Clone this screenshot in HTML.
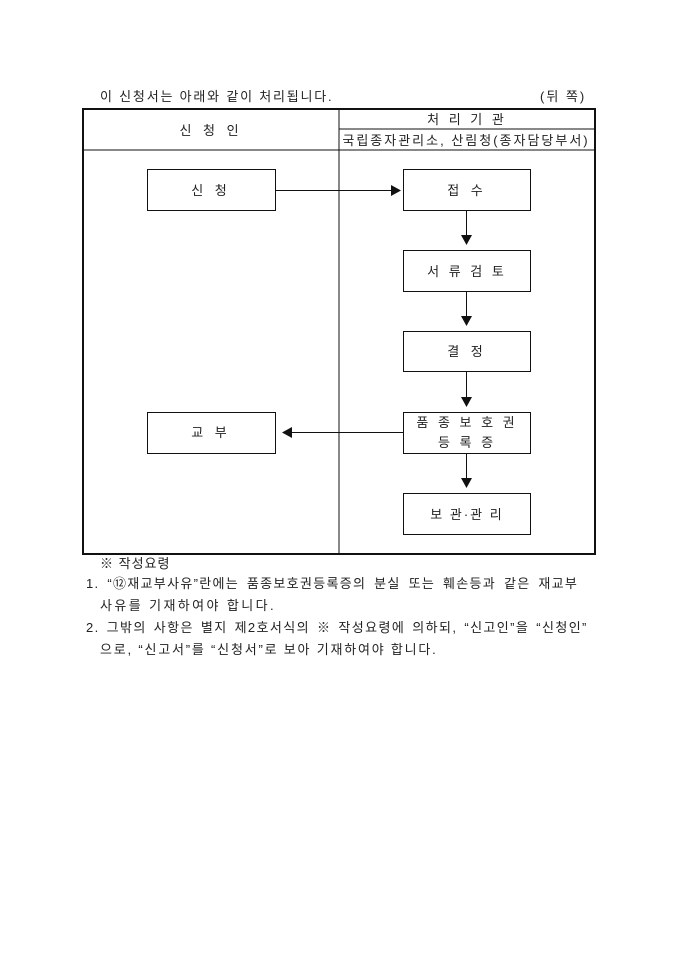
<!DOCTYPE html>
<html><head><meta charset="utf-8"><style>
html,body{margin:0;padding:0;background:#fff;}
body{width:680px;height:962px;position:relative;overflow:hidden;font-family:"Liberation Sans","Noto Sans CJK KR","NanumGothic",sans-serif;color:#222;}
.t{position:absolute;font-size:13px;white-space:nowrap;line-height:1;}
</style></head><body>
<svg width="680" height="962" style="position:absolute;left:0;top:0" xmlns="http://www.w3.org/2000/svg" font-family="Liberation Sans, Noto Sans CJK KR, NanumGothic, sans-serif" font-size="13" fill="#222">
<rect x="83" y="109" width="512" height="445" fill="none" stroke="#111" stroke-width="2"/>
<line x1="339" y1="109" x2="339" y2="554" stroke="#111" stroke-width="1"/>
<line x1="83" y1="150" x2="595" y2="150" stroke="#111" stroke-width="1"/>
<line x1="339" y1="129" x2="595" y2="129" stroke="#111" stroke-width="1"/>
<text x="211" y="135" text-anchor="middle" letter-spacing="4">신 청 인</text>
<text x="467" y="124" text-anchor="middle" letter-spacing="3">처 리 기 관</text>
<text x="466" y="145" text-anchor="middle" letter-spacing="2">국립종자관리소, 산림청(종자담당부서)</text>
<g fill="none" stroke="#111" stroke-width="1">
<rect x="147.5" y="169.5" width="128" height="41"/>
<rect x="403.5" y="169.5" width="127" height="41"/>
<rect x="403.5" y="250.5" width="127" height="41"/>
<rect x="403.5" y="331.5" width="127" height="40"/>
<rect x="403.5" y="412.5" width="127" height="41"/>
<rect x="403.5" y="493.5" width="127" height="41"/>
<rect x="147.5" y="412.5" width="128" height="41"/>
<line x1="275" y1="190.5" x2="392" y2="190.5"/>
<line x1="466.5" y1="210" x2="466.5" y2="236"/>
<line x1="466.5" y1="291" x2="466.5" y2="317"/>
<line x1="466.5" y1="372" x2="466.5" y2="398"/>
<line x1="466.5" y1="453" x2="466.5" y2="479"/>
<line x1="403" y1="432.5" x2="292" y2="432.5"/>
</g>
<g fill="#111">
<polygon points="391,185 401,190.5 391,196"/>
<polygon points="461,235 472,235 466.5,245"/>
<polygon points="461,316 472,316 466.5,326"/>
<polygon points="461,397 472,397 466.5,407"/>
<polygon points="461,478 472,478 466.5,488"/>
<polygon points="292,427 292,438 282,432.5"/>
</g>
<text x="211" y="195" text-anchor="middle" letter-spacing="4">신 청</text>
<text x="467" y="195" text-anchor="middle" letter-spacing="4">접 수</text>
<text x="467" y="276" text-anchor="middle" letter-spacing="3">서 류 검 토</text>
<text x="467" y="356" text-anchor="middle" letter-spacing="4">결 정</text>
<text x="467" y="427" text-anchor="middle" letter-spacing="3">품 종 보 호 권</text>
<text x="467" y="447" text-anchor="middle" letter-spacing="3">등 록 증</text>
<text x="467" y="519" text-anchor="middle" letter-spacing="2">보 관·관 리</text>
<text x="211" y="437" text-anchor="middle" letter-spacing="4">교 부</text>
</svg>
<div class="t" style="left:100px;top:90px;letter-spacing:1.8px;">이 신청서는 아래와 같이 처리됩니다.</div>
<div class="t" style="left:540px;top:90px;letter-spacing:2px;">(뒤 쪽)</div>
<div class="t" style="left:100px;top:557px;letter-spacing:1px;">※ 작성요령</div>
<div class="t" style="left:86px;top:577px;letter-spacing:1.3px;word-spacing:3px;">1. “⑫재교부사유”란에는 품종보호권등록증의 분실 또는 훼손등과 같은 재교부</div>
<div class="t" style="left:100px;top:599px;letter-spacing:2.4px;">사유를 기재하여야 합니다.</div>
<div class="t" style="left:86px;top:621px;letter-spacing:1.4px;word-spacing:2px;">2. 그밖의 사항은 별지 제2호서식의 ※ 작성요령에 의하되, “신고인”을 “신청인”</div>
<div class="t" style="left:100px;top:643px;letter-spacing:1.8px;">으로, “신고서”를 “신청서”로 보아 기재하여야 합니다.</div>
</body></html>
